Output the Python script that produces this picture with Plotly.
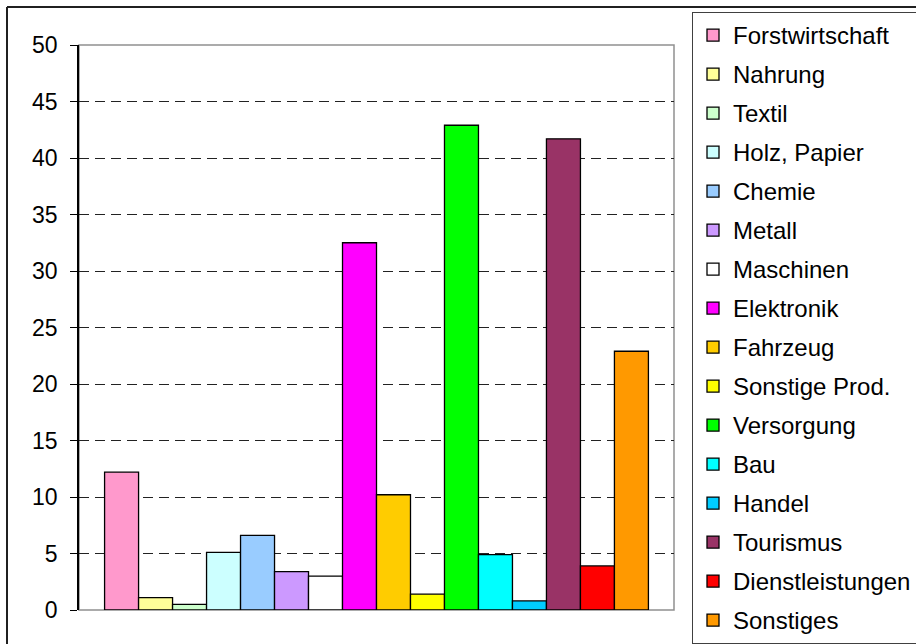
import plotly.graph_objects as go

categories = ["Forstwirtschaft", "Nahrung", "Textil", "Holz, Papier", "Chemie", "Metall",
              "Maschinen", "Elektronik", "Fahrzeug", "Sonstige Prod.", "Versorgung", "Bau",
              "Handel", "Tourismus", "Dienstleistungen", "Sonstiges"]
values = [12.2, 1.1, 0.5, 5.1, 6.6, 3.4, 3.0, 32.5, 10.2, 1.4, 42.9, 4.9, 0.8, 41.7, 3.9, 22.9]
colors = ["#FF99CC", "#FFFF99", "#CCFFCC", "#CCFFFF", "#99CCFF", "#CC99FF", "#FFFFFF",
          "#FF00FF", "#FFCC00", "#FFFF00", "#00FF00", "#00FFFF", "#00CCFF", "#993366",
          "#FF0000", "#FF9900"]
y_ticks = [0, 5, 10, 15, 20, 25, 30, 35, 40, 45, 50]

W, H = 916, 644
L, R, T, B = 79, 674, 45, 610
pw, ph = R - L, B - T

fig = go.Figure()
for i, (name, v, c) in enumerate(zip(categories, values, colors)):
    fig.add_trace(go.Bar(
        x=[""], y=[v], name=name, legendgroup=str(i),
        marker=dict(color=c, line=dict(color="black", width=1.3)),
    ))

def px(xp):
    return (xp - L) / pw

def py(yp):
    return (B - yp) / ph

shapes = [
    # plot area border (gray)
    dict(type="rect", xref="paper", yref="paper", x0=0, x1=1, y0=0, y1=1,
         line=dict(color="#909090", width=1.5), layer="below"),
    # outer chart border (top & left)
    dict(type="line", xref="paper", yref="paper", x0=px(7), x1=px(930), y0=py(7), y1=py(7),
         line=dict(color="#202020", width=2)),
    dict(type="line", xref="paper", yref="paper", x0=px(7), x1=px(7), y0=py(7), y1=py(660),
         line=dict(color="#202020", width=2)),
]

fig.update_layout(
    width=W, height=H,
    margin=dict(l=L, r=W - R, t=T, b=H - B, autoexpand=False),
    paper_bgcolor="white", plot_bgcolor="white",
    barmode="group", bargap=0.086, bargroupgap=0,
    font=dict(family="Liberation Sans, Arial, sans-serif", color="black", size=22),
    showlegend=True,
    legend=dict(
        x=px(692), y=py(12), xanchor="left", yanchor="top",
        bordercolor="#404040", borderwidth=1, bgcolor="white",
        font=dict(size=24), tracegroupgap=4.8, itemwidth=30,
        traceorder="grouped", maxheight=700,
    ),
    shapes=shapes,
    xaxis=dict(showticklabels=False, showgrid=False, zeroline=False, ticks="",
               showline=False),
    yaxis=dict(range=[0, 50], tickvals=y_ticks, ticks="outside", ticklen=7,
               tickcolor="black", tickwidth=1.3, showline=True, linecolor="black",
               linewidth=1.5, showgrid=True, gridcolor="#222222", gridwidth=1,
               griddash="10px,6px", zeroline=False, tickfont=dict(size=23),
               ticklabelstandoff=8),
)

fig.write_html("out.html")
